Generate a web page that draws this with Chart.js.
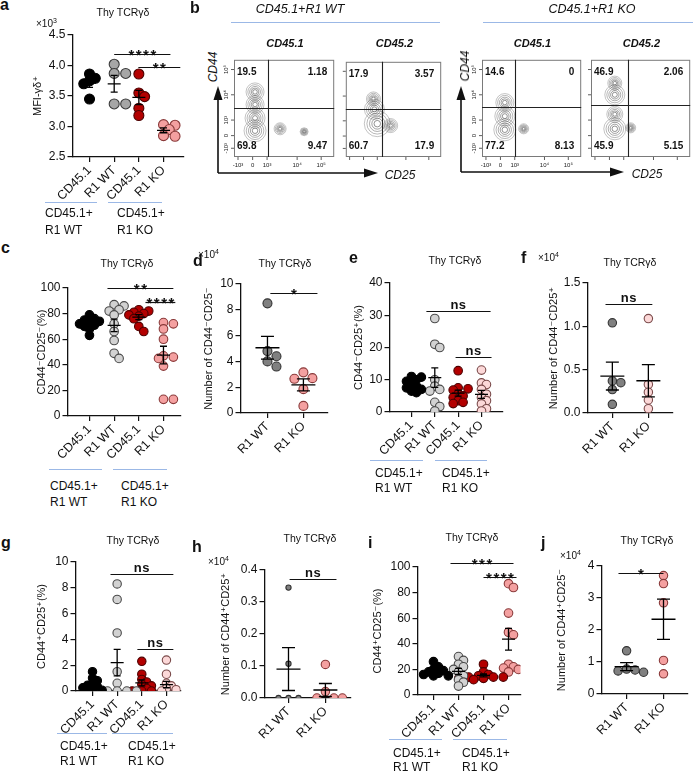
<!DOCTYPE html>
<html>
<head>
<meta charset="utf-8">
<script src="https://cdn.jsdelivr.net/npm/chart.js@4.4.1/dist/chart.umd.min.js"></script>
<style>
body { margin: 0; background: #fff; }
#fig { position: relative; width: 698px; height: 772px; overflow: hidden; font-family: "Liberation Sans", Arial, sans-serif; color: #111; }
.box { position: absolute; }
.lt { position: absolute; font-weight: bold; font-size: 16px; line-height: 16px; }
.tt { position: absolute; font-size: 10.5px; white-space: nowrap; transform: translate(-50%, -50%); }
.grp { position: absolute; font-size: 12px; white-space: nowrap; transform: translateY(-50%); }
.bl { position: absolute; height: 1.3px; background: #9bb8e6; }
.mul { position: absolute; font-size: 10px; white-space: nowrap; transform: translateY(-50%); }
.mul sup { font-size: 7px; }
.it { position: absolute; font-style: italic; font-size: 12px; white-space: nowrap; transform: translate(-50%, -50%); }
.bi { position: absolute; font-style: italic; font-weight: bold; font-size: 11px; white-space: nowrap; transform: translate(-50%, -50%); }
</style>
</head>
<body>
<div id="fig"></div>
<script>
const fig = document.getElementById('fig');
const FONT = '"Liberation Sans", Arial, "DejaVu Sans", sans-serif';
Chart.defaults.font.family = FONT;
Chart.defaults.color = '#111';

// ---------- data ----------
const fourCats = ['CD45.1', 'R1 WT', 'CD45.1', 'R1 KO'];
const twoCats = ['R1 WT', 'R1 KO'];

// a: MFI
const aTicks = [2.5, 3.0, 3.5, 4.0, 4.5];
const aCD451WT = [3.86, 3.79, 3.75, 3.70, 3.45];
const aR1WT = [4.02, 3.87, 3.87, 3.37, 3.37];
const aCD451KO = [3.86, 3.55, 3.49, 3.30, 3.18];
const aR1KO = [3.03, 3.02, 2.95, 2.85, 2.84];
const aSig = [[1.0, 3.28, 4.19, '****'], [1.98, 3.68, 3.98, '**']];

// c: CD44-CD25- %
const pctTicks = [0, 20, 40, 60, 80, 100];
const cCD451WT = [79, 76, 75, 74, 73, 72, 71, 70, 68, 63];
const cR1WT = [87, 86, 83, 82, 79, 72, 66, 59, 49, 45];
const cCD451KO = [83, 82, 81, 80, 79, 78, 76, 70, 66];
const cR1KO = [73, 72, 68, 60, 47, 46, 45, 39, 13, 13];
const cSig = [[0.73, 3.4, 100, '**'], [2.27, 3.48, 89, '****']];

// d: number CD44-CD25- (x10^4)
const dTicks = [0, 2, 4, 6, 8, 10];
const dR1WT = [8.5, 4.8, 4.4, 4.0, 3.6];
const dR1KO = [3.15, 2.7, 2.65, 1.85, 0.55];
const dSig = [[0.08, 1.39, 9.3, '*']];

// e: CD44-CD25+ %
const eTicks = [0, 10, 20, 30, 40];
const eCD451WT = [11, 10.8, 10, 9.5, 8.5, 8, 7.5, 7, 6.5, 6];
const eR1WT = [29, 21, 20, 10, 8, 7, 6.5, 3, 1.7, 0.3];
const eCD451KO = [12.8, 7.5, 7.2, 6.8, 5.5, 5, 4.5, 3.5, 3, 2.6];
const eR1KO = [13, 9, 8.5, 7, 5.5, 4.5, 3.5, 2.5, 1, 0.3];
const eSig = [[0.64, 3.39, 31.3, 'ns'], [1.89, 3.43, 17, 'ns']];

// f: number CD44-CD25+ (x10^4)
const fTicks = [0, 0.5, 1.0, 1.5];
const fR1WT = [1.04, 0.37, 0.35, 0.27, 0.10];
const fR1KO = [1.09, 0.33, 0.24, 0.15, 0.05];
const fSig = [[-0.19, 1.11, 1.26, 'ns']];

// g: CD44+CD25+ %
const gTicks = [0, 2, 4, 6, 8, 10];
const gCD451WT = [1.5, 1.0, 0.8, 0.6, 0.45, 0.35, 0.25, 0.15, 0.05, 0];
const gR1WT = [8.3, 7.1, 4.5, 1.5, 0.6, 0, 0, 0, 0, 0];
const gCD451KO = [2.3, 1.3, 0.9, 0.7, 0.5, 0.4, 0.2, 0, 0, 0];
const gR1KO = [2.4, 1.3, 0.6, 0.4, 0.2, 0.1, 0, 0, 0, 0];
const gSig = [[0.73, 3.28, 9.07, 'ns'], [1.82, 3.28, 3.26, 'ns']];

// h: number CD44+CD25+ (x10^4)
const hTicks = [0, 0.1, 0.2, 0.3, 0.4];
const hR1WT = [0.345, 0.107, 0, 0, 0];
const hR1KO = [0.105, 0.02, 0, 0, 0];
const hSig = [[0.03, 1.3, 0.372, 'ns']];

// i: CD44+CD25- %
const iCD451WT = [26, 22, 20, 19, 18, 17, 16, 15, 15];
const iR1WT = [30, 27, 24, 22, 20, 18, 15, 12, 10, 7];
const iCD451KO = [24, 18, 16, 15, 14, 14, 14, 13, 13, 12];
const iR1KO = [87, 84, 64, 49, 47, 24, 22, 21, 20, 18];
const iSig = [[0.68, 3.2, 103, '***'], [2.0, 3.32, 92.2, '****']];

// j: number CD44+CD25- (x10^4)
const jTicks = [0, 1, 2, 3, 4];
const jR1WT = [1.35, 0.78, 0.75, 0.72, 0.68];
const jR1KO = [3.7, 3.45, 2.85, 1.05, 0.63];
const jSig = [[-0.22, 1.0, 3.78, '*']];

// b: flow quadrants [UL, UR, LL, LR], gates, density peaks [x, y, size]
const flowPctWT451 = [19.5, 1.18, 69.8, 9.47];
const flowPctWT452 = [17.9, 3.57, 60.7, 17.9];
const flowPctKO451 = [14.6, 0, 77.2, 8.13];
const flowPctKO452 = [46.9, 2.06, 45.9, 5.15];
const flowGates = [[34, 50.5], [37.6, 50.5], [33.7, 51.4], [37.3, 53.3]];
const flowPeaksWT451 = [[21, 27, 11], [21, 40, 10], [21, 54, 9], [21, 67, 9], [46, 29, 6], [70, 26, 4]];
const flowPeaksWT452 = [[33, 35, 13], [30, 50, 10], [29, 61, 7], [47, 33, 7]];
const flowPeaksKO451 = [[23, 28, 11], [23, 42, 10], [23, 56, 9], [42, 29, 5]];
const flowPeaksKO452 = [[24, 29, 11], [24, 44, 8], [24, 64, 10], [24, 76, 7], [40, 30, 5]];
const flowXTicks = [4, 18.6, 33, 63, 87];
const flowYTicks = [9, 22, 38, 64, 90];
const flowTickLabels = ['-10³', '0', '10³', '10⁴', '10⁵'];

// ---------- styles ----------
const C = {
  black: ['#000000', '#000000'],
  gray: ['#a6a6a6', '#3a3a3a'],
  lgray: ['#d2d2d2', '#4a4a4a'],
  dgray: ['#808080', '#333333'],
  dred: ['#b30000', '#4d0000'],
  pink: ['#f4a0a0', '#8a3a3a'],
  lpink: ['#fcd8d8', '#7a4a4a']
};

const panels = [
  { cats: fourCats, ticks: aTicks, dec: 1, title: 'MFI-γδ⁺', sig: aSig, r: 5, mw: 13, cw: 7,
    groups: [[aCD451WT, C.black], [aR1WT, C.gray], [aCD451KO, C.dred], [aR1KO, C.pink]],
    geo: { tx: 37, ax: 72, top: 35, bot: 157, right: 183, xmin: -0.69, xmax: 3.81 } },
  { cats: fourCats, ticks: pctTicks, dec: 0, title: 'CD44⁻CD25⁻(%)', sig: cSig, r: 4.3, mw: 13, cw: 7,
    groups: [[cCD451WT, C.black], [cR1WT, C.lgray], [cCD451KO, C.dred], [cR1KO, C.pink]],
    geo: { tx: 41, ax: 67, top: 288, bot: 416, right: 180, xmin: -0.89, xmax: 3.69 } },
  { cats: twoCats, ticks: dTicks, dec: 0, title: 'Number of CD44⁻CD25⁻', sig: dSig, r: 4.5, step: [9, 9], mw: 24, cw: 13,
    groups: [[dR1WT, C.dgray], [dR1KO, C.pink]],
    geo: { tx: 208, ax: 240, top: 284, bot: 413, right: 327, xmin: -0.75, xmax: 1.67 } },
  { cats: fourCats, ticks: eTicks, dec: 0, title: 'CD44⁻CD25⁺(%)', sig: eSig, r: 4.3, mw: 13, cw: 7,
    groups: [[eCD451WT, C.black], [eR1WT, C.lgray], [eCD451KO, C.dred], [eR1KO, C.lpink]],
    geo: { tx: 358, ax: 389, top: 283, bot: 412, right: 502, xmin: -0.94, xmax: 3.9 } },
  { cats: twoCats, ticks: fTicks, dec: 1, title: 'Number of CD44⁻CD25⁺', sig: fSig, r: 4.2, step: [8.5, 8.5], mw: 24, cw: 13,
    groups: [[fR1WT, C.dgray], [fR1KO, C.lpink]],
    geo: { tx: 553, ax: 587, top: 283, bot: 413, right: 672, xmin: -0.69, xmax: 1.67 } },
  { cats: fourCats, ticks: gTicks, dec: 0, title: 'CD44⁺CD25⁺(%)', sig: gSig, r: 4.2, mw: 13, cw: 7,
    groups: [[gCD451WT, C.black], [gR1WT, C.lgray], [gCD451KO, C.dred], [gR1KO, C.lpink]],
    geo: { tx: 41, ax: 75, top: 562, bot: 691, right: 180, xmin: -0.69, xmax: 3.57 } },
  { cats: twoCats, ticks: hTicks, dec: 1, title: 'Number of CD44⁺CD25⁺', sig: hSig, r: [2.6, 4.2], step: [10, 8.5], mw: 24, cw: 13,
    groups: [[hR1WT, C.dgray], [hR1KO, C.pink]],
    geo: { tx: 225, ax: 264, top: 570, bot: 698, right: 350, xmin: -0.65, xmax: 1.68 } },
  { cats: fourCats, ticks: pctTicks, dec: 0, title: 'CD44⁺CD25⁻(%)', sig: iSig, r: 4.3, mw: 13, cw: 7,
    groups: [[iCD451WT, C.black], [iR1WT, C.lgray], [iCD451KO, C.dred], [iR1KO, C.pink]],
    geo: { tx: 377, ax: 417, top: 567, bot: 695, right: 520, xmin: -0.64, xmax: 3.48 } },
  { cats: twoCats, ticks: jTicks, dec: 0, title: 'Number of CD44⁺CD25⁻', sig: jSig, r: 4.2, step: [8.5, 8.5], mw: 24, cw: 13,
    groups: [[jR1WT, C.dgray], [jR1KO, C.pink]],
    geo: { tx: 561, ax: 601, top: 566, bot: 694, right: 687, xmin: -0.68, xmax: 1.65 } }
];

// spread points sideways so they do not sit on top of each other
const swarm = {
  id: 'swarm',
  afterDatasetsUpdate(chart) {
    chart.data.datasets.forEach((ds, i) => {
      const meta = chart.getDatasetMeta(i);
      const r = ds.pointRadius;
      const step = ds.swarmStep || r * 1.15;
      const minD = ds.swarmStep ? step * 0.9 : r * 1.2;
      const els = meta.data.slice().sort((a, b) => a.y - b.y);
      const placed = [];
      els.forEach(el => {
        const x0 = el.x;
        let off = 0;
        for (let k = 0; k < 11; k++) {
          const cand = k === 0 ? 0 : (k % 2 ? 1 : -1) * Math.ceil(k / 2) * step;
          if (placed.every(q => Math.hypot(q.x - (x0 + cand), q.y - el.y) >= minD)) { off = cand; break; }
        }
        el.x = x0 + off;
        placed.push({ x: el.x, y: el.y });
      });
    });
  }
};

function meanSem(p) {
  return {
    id: 'meanSem',
    afterDatasetsDraw(chart) {
      const { ctx, scales: { x, y } } = chart;
      ctx.save();
      ctx.strokeStyle = '#000';
      ctx.lineWidth = 1.3;
      chart.data.datasets.forEach((ds, i) => {
        const v = ds.data.map(d => d.y);
        const n = v.length;
        const m = v.reduce((s, b) => s + b, 0) / n;
        const sd = Math.sqrt(v.reduce((s, b) => s + (b - m) ** 2, 0) / (n - 1));
        const se = sd / Math.sqrt(n);
        const cx = x.getPixelForValue(i);
        const pm = y.getPixelForValue(m);
        const pt = y.getPixelForValue(m + se);
        const pb = Math.min(y.getPixelForValue(m - se), y.bottom);
        ctx.beginPath();
        ctx.moveTo(cx - p.mw / 2, pm); ctx.lineTo(cx + p.mw / 2, pm);
        ctx.moveTo(cx, pt); ctx.lineTo(cx, pb);
        ctx.moveTo(cx - p.cw / 2, pt); ctx.lineTo(cx + p.cw / 2, pt);
        ctx.moveTo(cx - p.cw / 2, pb); ctx.lineTo(cx + p.cw / 2, pb);
        ctx.stroke();
      });
      ctx.restore();
    }
  };
}

function sigBars(p) {
  return {
    id: 'sigBars',
    afterDraw(chart) {
      const { ctx, scales: { x, y } } = chart;
      ctx.save();
      ctx.strokeStyle = '#111';
      ctx.fillStyle = '#111';
      ctx.lineWidth = 1.2;
      ctx.textAlign = 'center';
      ctx.textBaseline = 'alphabetic';
      p.sig.forEach(([x1, x2, yv, label]) => {
        const py = Math.round(y.getPixelForValue(yv)) + 0.5;
        const px1 = x.getPixelForValue(x1), px2 = x.getPixelForValue(x2);
        ctx.beginPath();
        ctx.moveTo(px1, py); ctx.lineTo(px2, py);
        ctx.stroke();
        if (label.includes('*')) {
          ctx.font = 'bold 15px ' + FONT;
          ctx.letterSpacing = '1.5px';
          ctx.fillText(label, (px1 + px2) / 2 + 0.75, py + 5);
        } else {
          ctx.font = 'bold 13px ' + FONT;
          ctx.letterSpacing = '0.5px';
          ctx.fillText(label, (px1 + px2) / 2, py - 3);
        }
      });
      ctx.restore();
    }
  };
}

function dotChart(p) {
  const g = p.geo, PT = 26, PR = 14, XH = 52;
  const left = g.tx - 5.5, top = g.top - PT;
  const div = document.createElement('div');
  div.className = 'box';
  Object.assign(div.style, {
    left: left + 'px', top: top + 'px',
    width: (g.right + PR - left) + 'px', height: (g.bot - top + XH) + 'px'
  });
  const cv = document.createElement('canvas');
  div.appendChild(cv);
  fig.appendChild(div);

  const axisGrid = { display: true, drawOnChartArea: false, drawTicks: true, tickLength: 5, color: '#111', lineWidth: 1.2 };
  const axisBorder = { display: true, color: '#111', width: 1.3 };

  new Chart(cv, {
    type: 'scatter',
    data: {
      datasets: p.groups.map(([vals, col], i) => ({
        data: vals.map(v => ({ x: i, y: v })),
        pointRadius: Array.isArray(p.r) ? p.r[i] : p.r,
        swarmStep: p.step ? p.step[i] : null,
        backgroundColor: col[0],
        borderColor: col[1],
        borderWidth: 1.1
      }))
    },
    options: {
      responsive: true,
      maintainAspectRatio: false,
      animation: false,
      layout: { padding: { top: PT, right: PR, left: 0, bottom: 0 } },
      plugins: { legend: { display: false }, tooltip: { enabled: false } },
      scales: {
        x: {
          type: 'linear', min: g.xmin, max: g.xmax,
          afterBuildTicks: s => { s.ticks = p.cats.map((c, i) => ({ value: i })); },
          afterFit: s => { s.height = XH; s.paddingLeft = 0; s.paddingRight = 0; },
          ticks: { callback: v => p.cats[v], minRotation: 45, maxRotation: 45, autoSkip: false, font: { size: 12.5 }, padding: 1, color: '#111' },
          grid: axisGrid,
          border: axisBorder
        },
        y: {
          min: p.ticks[0], max: p.ticks[p.ticks.length - 1],
          afterBuildTicks: s => { s.ticks = p.ticks.map(v => ({ value: v })); },
          afterFit: s => { s.width = g.ax - left; s.paddingTop = 0; s.paddingBottom = 0; },
          ticks: { callback: v => v.toFixed(p.dec), font: { size: 12 }, padding: 2, color: '#111' },
          grid: axisGrid,
          border: axisBorder,
          title: { display: true, text: p.title, font: { size: 11, lineHeight: 1 }, padding: { top: 0, bottom: 0 }, color: '#111' }
        }
      }
    },
    plugins: [swarm, meanSem(p), sigBars(p)]
  });
}

panels.forEach(dotChart);

// ---------- panel b: flow plots ----------
const flowBoxes = [
  { x: 234, y: 52, w: 102, h: 105, pct: flowPctWT451, gate: flowGates[0], peaks: flowPeaksWT451, labels: true, name: 'CD45.1' },
  { x: 344, y: 52, w: 101, h: 105, pct: flowPctWT452, gate: flowGates[1], peaks: flowPeaksWT452, labels: false, name: 'CD45.2' },
  { x: 482, y: 52, w: 101, h: 105, pct: flowPctKO451, gate: flowGates[2], peaks: flowPeaksKO451, labels: true, name: 'CD45.1' },
  { x: 591, y: 52, w: 101, h: 105, pct: flowPctKO452, gate: flowGates[3], peaks: flowPeaksKO452, labels: false, name: 'CD45.2' }
];
const ringLevels = [1, 0.8, 0.6, 0.42, 0.25];

function flowDeco(fb) {
  return {
    id: 'flowDeco',
    afterDraw(chart) {
      const { ctx, chartArea: ca, scales: { x, y } } = chart;
      ctx.save();
      ctx.strokeStyle = '#7a7a7a';
      ctx.lineWidth = 1;
      ctx.strokeRect(ca.left + 0.5, ca.top + 0.5, ca.width - 1, ca.height - 1);
      ctx.strokeStyle = '#333';
      ctx.lineWidth = 0.8;
      ctx.beginPath();
      flowXTicks.forEach(t => { const px = x.getPixelForValue(t); ctx.moveTo(px, ca.bottom); ctx.lineTo(px, ca.bottom + 3); });
      flowYTicks.forEach(t => { const py = y.getPixelForValue(t); ctx.moveTo(ca.left, py); ctx.lineTo(ca.left - 3, py); });
      ctx.stroke();
      if (fb.labels) {
        ctx.fillStyle = '#222';
        ctx.font = '6px ' + FONT;
        ctx.textAlign = 'center';
        ctx.textBaseline = 'top';
        flowXTicks.forEach((t, i) => ctx.fillText(flowTickLabels[i], x.getPixelForValue(t), ca.bottom + 5));
        flowYTicks.forEach((t, i) => {
          ctx.save();
          ctx.translate(ca.left - 8, y.getPixelForValue(t));
          ctx.rotate(-Math.PI / 2);
          ctx.textBaseline = 'middle';
          ctx.fillText(flowTickLabels[i], 0, 0);
          ctx.restore();
        });
      }
      const gx = Math.round(x.getPixelForValue(fb.gate[0])) + 0.5;
      const gy = Math.round(y.getPixelForValue(fb.gate[1])) + 0.5;
      ctx.strokeStyle = '#222';
      ctx.lineWidth = 1.1;
      ctx.beginPath();
      ctx.moveTo(gx, ca.top); ctx.lineTo(gx, ca.bottom);
      ctx.moveTo(ca.left, gy); ctx.lineTo(ca.right, gy);
      ctx.stroke();
      ctx.fillStyle = '#111';
      ctx.font = 'bold 10px ' + FONT;
      ctx.textBaseline = 'middle';
      const [ul, ur, ll, lr] = fb.pct.map(String);
      ctx.textAlign = 'left';
      ctx.fillText(ul, ca.left + 3, ca.top + 12);
      ctx.fillText(ll, ca.left + 3, ca.bottom - 11);
      ctx.textAlign = 'right';
      ctx.fillText(ur, ca.right - 7, ca.top + 12);
      ctx.fillText(lr, ca.right - 7, ca.bottom - 11);
      ctx.restore();
    }
  };
}

flowBoxes.forEach(fb => {
  const div = document.createElement('div');
  div.className = 'box';
  Object.assign(div.style, { left: (fb.x - 12) + 'px', top: (fb.y - 4) + 'px', width: (fb.w + 22) + 'px', height: (fb.h + 18) + 'px' });
  const cv = document.createElement('canvas');
  div.appendChild(cv);
  fig.appendChild(div);
  new Chart(cv, {
    type: 'scatter',
    data: {
      datasets: ringLevels.map((lv, k) => ({
        data: fb.peaks.map(([px, py]) => ({ x: px, y: py })),
        pointRadius: fb.peaks.map(pk => pk[2] * lv),
        backgroundColor: 'rgba(0,0,0,0)',
        borderColor: 'rgba(70,70,70,' + (0.4 + k * 0.08) + ')',
        borderWidth: 0.8
      }))
    },
    options: {
      responsive: true, maintainAspectRatio: false, animation: false,
      layout: { padding: { left: 12, top: 4, right: 10, bottom: 14 } },
      plugins: { legend: { display: false }, tooltip: { enabled: false } },
      scales: { x: { type: 'linear', min: 0, max: 100, display: false }, y: { min: 0, max: 100, display: false } }
    },
    plugins: [flowDeco(fb)]
  });
});

// ---------- text and decorations ----------
function put(cls, html, css) {
  const e = document.createElement('div');
  e.className = cls;
  e.innerHTML = html;
  Object.assign(e.style, css);
  fig.appendChild(e);
  return e;
}
const px = v => v + 'px';

[['a', 0, -3.5], ['b', 190, -0.5], ['c', 1, 239.5], ['d', 193, 252.5], ['e', 349, 249.5], ['f', 521, 249.5],
 ['g', 1, 534.5], ['h', 192, 538.5], ['i', 368, 534.5], ['j', 541, 534.5]]
  .forEach(([t, x, y]) => put('lt', t, { left: px(x), top: px(y) }));

[[123, 12], [127, 263], [285, 263], [455, 260], [630, 262], [133, 540], [310, 538], [472, 537], [647, 540]]
  .forEach(([x, y]) => put('tt', 'Thy TCRγδ', { left: px(x), top: px(y) }));

[[36, 23, 3], [198, 254, 4], [538, 257, 4], [208, 561, 4], [560, 555, 4]]
  .forEach(([x, y, e]) => put('mul', '×10<sup>' + e + '</sup>', { left: px(x), top: px(y) }));

// group brackets under four-group panels
[[202, [45, 97], [108, 162], 45, 117, 213, 230],
 [469, [49, 102], [113, 167], 50, 121, 486, 502],
 [460, [370, 423], [435, 487], 375, 442, 473, 488],
 [733, [57, 107], [112, 173], 60, 128, 746, 761],
 [739, [389, 442], [453, 507], 393, 462, 753, 767]]
  .forEach(([ly, s1, s2, x1, x2, r1, r2]) => {
    put('bl', '', { left: px(s1[0]), top: px(ly), width: px(s1[1] - s1[0]) });
    put('bl', '', { left: px(s2[0]), top: px(ly), width: px(s2[1] - s2[0]) });
    put('grp', 'CD45.1+', { left: px(x1), top: px(r1) });
    put('grp', 'R1 WT', { left: px(x1), top: px(r2) });
    put('grp', 'CD45.1+', { left: px(x2), top: px(r1) });
    put('grp', 'R1 KO', { left: px(x2), top: px(r2) });
  });

// panel b headers and axis labels
put('it', 'CD45.1+R1 WT', { left: px(300), top: px(9), fontSize: '12.5px' });
put('it', 'CD45.1+R1 KO', { left: px(592), top: px(9), fontSize: '12.5px' });
put('bl', '', { left: px(231), top: px(22), width: px(209) });
put('bl', '', { left: px(483), top: px(22), width: px(210) });
flowBoxes.forEach(fb => put('bi', fb.name, { left: px(fb.x + fb.w / 2), top: px(43) }));
put('it', 'CD44', { left: px(213), top: px(67), transform: 'translate(-50%,-50%) rotate(-90deg)' });
put('it', 'CD44', { left: px(465), top: px(66), transform: 'translate(-50%,-50%) rotate(-90deg)' });
put('it', 'CD25', { left: px(400), top: px(175) });
put('it', 'CD25', { left: px(647), top: px(174) });

const svgNS = 'http://www.w3.org/2000/svg';
const svg = document.createElementNS(svgNS, 'svg');
svg.setAttribute('width', 698);
svg.setAttribute('height', 772);
svg.style.position = 'absolute';
svg.style.left = '0';
svg.style.top = '0';
svg.innerHTML =
  '<path d="M218 173 V98 M218 173 H366" stroke="#111" stroke-width="1.6" fill="none"/>' +
  '<polygon points="213.5,100 222.5,100 218,86" fill="#111"/>' +
  '<polygon points="364,168.5 364,177.5 378,173" fill="#111"/>' +
  '<path d="M461 172 V98 M461 172 H612" stroke="#111" stroke-width="1.6" fill="none"/>' +
  '<polygon points="456.5,100 465.5,100 461,86" fill="#111"/>' +
  '<polygon points="610,167.5 610,176.5 624,172" fill="#111"/>';
fig.appendChild(svg);
</script>
</body>
</html>
